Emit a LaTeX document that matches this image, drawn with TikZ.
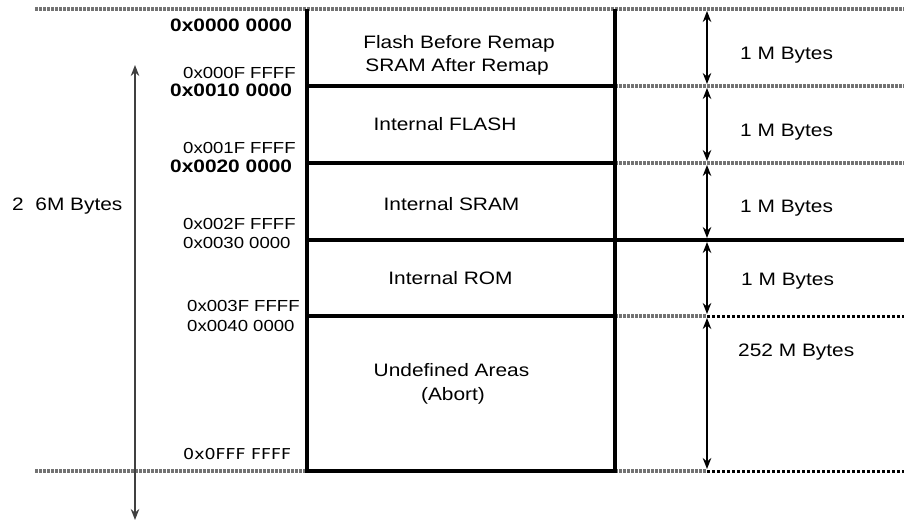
\documentclass[tikz,border=0pt]{standalone}
\usepackage{fontspec}
\setmainfont[FakeStretch=1.16]{Liberation Sans}
\newfontfamily\vfont[FakeStretch=1.16]{DejaVu Sans}
\usetikzlibrary{arrows.meta}
\begin{document}
\begin{tikzpicture}[x=1pt,y=-1pt,
  box/.style={line width=3.2pt, black, line join=miter},
  gdot/.style={line width=3.4pt, color=black!55, dash pattern=on 3pt off 1pt},
  bdot/.style={line width=3pt, black, dash pattern=on 3pt off 2pt},
  dimarrow/.style={line width=1.4pt, {Stealth[length=11pt,width=8.5pt]}-{Stealth[length=11pt,width=8.5pt]}, shorten <=2pt, shorten >=2pt},
  lbl/.style={font=\fontsize{18}{23}\selectfont, inner sep=0pt, anchor=base},
  rlbl/.style={font=\fontsize{18}{23}\selectfont, inner sep=0pt, anchor=base west},
  addr/.style={font=\fontsize{16}{18}\selectfont, inner sep=0pt, anchor=base west},
  baddr/.style={font=\fontsize{18}{20}\selectfont\bfseries, inner sep=0pt, anchor=base west}]
\useasboundingbox (0,0) rectangle (904,521);

% coordinates
\coordinate (tl) at (35,9);
\coordinate (tr) at (904,9);
\coordinate (b0) at (307,9);
\coordinate (b0r) at (615,9);
\coordinate (b1) at (307,86);   \coordinate (b1r) at (615,86);   \coordinate (e1) at (904,86);
\coordinate (b2) at (307,163);  \coordinate (b2r) at (615,163);  \coordinate (e2) at (904,163);
\coordinate (b3) at (307,240);  \coordinate (b3r) at (615,240);  \coordinate (e3) at (904,240);
\coordinate (b4) at (307,316);  \coordinate (b4r) at (615,316);  \coordinate (m4) at (707,316); \coordinate (e4) at (904,316);
\coordinate (b5) at (307,471);  \coordinate (b5r) at (615,471);  \coordinate (m5) at (707,471); \coordinate (e5) at (904,471);
\coordinate (bl) at (35,471);
\coordinate (a0) at (707,9);
\coordinate (a1) at (707,86);
\coordinate (a2) at (707,163);
\coordinate (a3) at (707,240);
\coordinate (la) at (135,65);
\coordinate (lb) at (135,520);

% dotted guide lines
\draw[gdot] (tl) -- (tr);
\draw[gdot] (b1r) -- (e1);
\draw[gdot] (b2r) -- (e2);
\draw[gdot] (b4r) -- (m4);
\draw[bdot] (m4) -- (e4);
\draw[gdot] (bl) -- (b5);
\draw[gdot] (b5r) -- (m5);
\draw[bdot] (m5) -- (e5);

% box
\draw[box] (b0) -- (b5) -- (b5r) -- (b0r);
\draw[box] (b1) -- (b1r);
\draw[box] (b2) -- (b2r);
\draw[box] (b3) -- (e3);
\draw[box] (b4) -- (b4r);

% size arrows
\draw[dimarrow] (a0) -- (a1);
\draw[dimarrow] (a1) -- (a2);
\draw[dimarrow] (a2) -- (a3);
\draw[dimarrow] (a3) -- (m4);
\draw[dimarrow, line width=2.4pt] (m4) -- (m5);
\draw[line width=1.4pt, color=black!75, {Stealth[length=11pt,width=8.5pt]}-{Stealth[length=11pt,width=8.5pt]}] (la) -- (lb);

% region labels
\node[lbl] (r0a) at (459,48.5) {Flash Before Remap};
\node[lbl] (r0b) at (457,72) {SRAM After Remap};
\node[lbl] (r1) at (445,130.5) {Internal FLASH};
\node[lbl] (r2) at (451.5,210.5) {Internal SRAM};
\node[lbl] (r3) at (450.5,284) {Internal ROM};
\node[lbl] (r4a) at (451.5,376) {Undefined Areas};
\node[lbl] (r4b) at (453,400) {(Abort)};

% size labels
\node[rlbl] (s0) at (740,60) {1 M Bytes};
\node[rlbl] (s1) at (740,136.5) {1 M Bytes};
\node[rlbl] (s2) at (740,212.5) {1 M Bytes};
\node[rlbl] (s3) at (741,285) {1 M Bytes};
\node[rlbl] (s4) at (738,356.5) {252 M Bytes};
\node[rlbl] (tot) at (12,210.5) {2\phantom{5}6M Bytes};

% addresses
\node[baddr] (ad0) at (170,31.5) {0x0000 0000};
\node[addr]  (ad1) at (183,78.3) {0x000F FFFF};
\node[baddr] (ad2) at (170,96.5) {0x0010 0000};
\node[addr]  (ad3) at (183,153.3) {0x001F FFFF};
\node[baddr] (ad4) at (170,172.5) {0x0020 0000};
\node[addr]  (ad5) at (183,230) {0x002F FFFF};
\node[addr]  (ad6) at (183,248.3) {0x0030 0000};
\node[addr]  (ad7) at (187,311.5) {0x003F FFFF};
\node[addr]  (ad8) at (187,331.5) {0x0040 0000};
\node[addr, font=\vfont\fontsize{15}{17}\selectfont] (ad9) at (183,459) {0x0FFF FFFF};
\end{tikzpicture}
\end{document}
